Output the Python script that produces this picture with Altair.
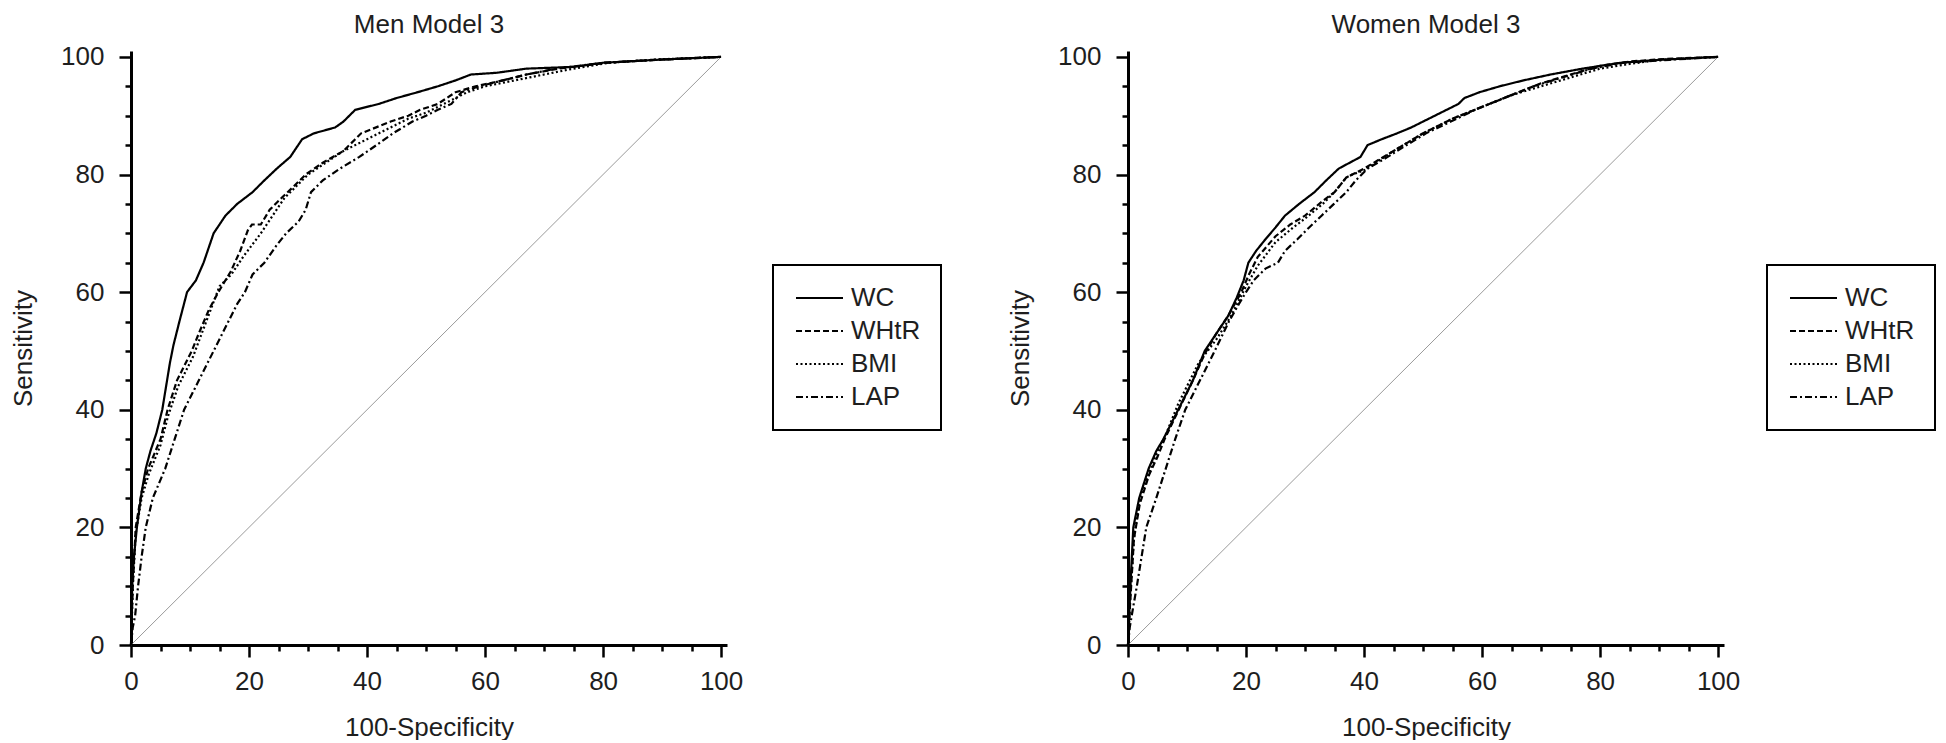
import altair as alt
import pandas as pd

SERIES = ["WC", "WHtR", "BMI", "LAP"]
DASHES = [[1, 0], [6, 3], [2, 2.5], [7, 3, 2, 3]]
TICK_VALUES = list(range(0, 101, 5))
DIAG_X = [0, 100]
DIAG_Y = [0, 100]

# ---- Men Model 3 ----
MEN_WC_X = [0, 0.2, 0.5, 1.0, 1.8, 2.5, 3.3, 4.3, 5.3, 6.6, 7.2, 8.2, 9.5, 11.0, 12.3, 14.0, 16.0, 18.0, 20.6,
            22.6, 24.7, 27.0, 29.0, 31.0, 34.6, 36.0, 38.0, 42.0, 45.0, 48.6, 52.0, 55.0, 57.6, 62.0, 67.0, 75.0,
            80.0, 89.0, 100]
MEN_WC_Y = [0, 10, 15, 20, 26, 30, 33, 36, 40, 48, 51, 55, 60, 62, 65, 70, 73, 75, 77,
            79, 81, 83, 86, 87, 88, 89, 91, 92, 93, 94, 95, 96, 97, 97.3, 98, 98.3,
            99, 99.5, 100]

MEN_WHTR_X = [0, 0.3, 0.8, 1.8, 2.9, 5.0, 6.2, 7.8, 10.3, 11.5, 13.2, 14.8, 16.9, 18.5, 19.8, 20.5, 22.0, 23.5,
              25.5, 27.6, 29.6, 32.5, 36.0, 38.0, 39.0, 44.0, 47.0, 49.0, 52.0, 55.0, 58.4, 63.0, 67.0, 72.4,
              80.6, 89.0, 100]
MEN_WHTR_Y = [0, 10, 20, 26, 30, 35, 40, 45, 50, 53, 57, 60, 63.5, 67, 70.5, 71.5, 71.5, 74,
              76, 78, 80, 82, 84, 86, 87, 89, 90, 91, 92, 94, 95, 96, 97, 98,
              99, 99.5, 100]

MEN_BMI_X = [0, 0.3, 0.8, 1.8, 3.0, 5.0, 6.3, 8.0, 10.5, 12.0, 13.5, 15.0, 17.0, 19.0, 20.5, 22.0, 24.0, 26.0,
             28.0, 30.0, 33.0, 36.0, 40.0, 44.0, 47.0, 50.0, 53.0, 55.0, 57.0, 60.0, 65.0, 70.0, 75.0, 81.0,
             90.0, 100]
MEN_BMI_Y = [0, 10, 19, 25, 29, 34, 39, 44, 49, 53, 57, 61, 63, 66, 68, 70, 73, 76,
             78, 80, 82, 84, 86, 88, 89.5, 90.5, 92, 93, 94, 95, 96, 97, 98, 99,
             99.6, 100]

MEN_LAP_X = [0, 0.3, 0.7, 1.2, 1.8, 2.5, 3.7, 5.8, 7.4, 9.0, 11.5, 14.0, 16.5, 18.0, 19.3, 20.6, 22.6, 24.7,
             26.3, 28.4, 29.6, 30.5, 32.5, 35.4, 38.7, 41.6, 44.4, 47.7, 50.0, 52.0, 54.3, 56.0, 59.0, 63.0,
             67.0, 72.0, 80.0, 89.0, 100]
MEN_LAP_Y = [0, 3, 5, 10, 15, 20, 25, 30, 35, 40, 45, 50, 55, 58, 60, 63, 65, 68,
             70, 72, 74, 77, 79, 81, 83, 85, 87, 89, 90, 91, 92, 94, 95, 96,
             97, 98, 99, 99.5, 100]

# ---- Women Model 3 ----
WOMEN_WC_X = [0, 0.2, 0.5, 0.9, 1.9, 3.5, 4.8, 6.0, 8.5, 11.0, 13.0, 15.0, 17.0, 18.4, 19.6, 20.4, 21.7, 23.3,
              25.0, 26.6, 29.0, 31.6, 33.6, 35.7, 38.5, 39.4, 40.6, 43.0, 45.6, 48.0, 50.0, 52.0, 54.0, 56.0,
              57.0, 59.6, 63.0, 67.0, 71.6, 77.0, 83.5, 90.0, 100]
WOMEN_WC_Y = [0, 5, 12, 20, 25, 30, 33, 35, 40, 45, 50, 53, 56, 59, 62, 65, 67, 69,
              71, 73, 75, 77, 79, 81, 82.5, 83, 85, 86, 87, 88, 89, 90, 91, 92,
              93, 94, 95, 96, 97, 98, 99, 99.5, 100]

WOMEN_WHTR_X = [0, 0.3, 1.0, 2.0, 3.6, 5.0, 6.2, 8.6, 11.0, 13.0, 15.0, 17.0, 19.2, 20.5, 22.0, 25.0, 27.5,
                30.0, 33.0, 35.0, 37.0, 40.0, 45.0, 50.0, 55.0, 60.0, 65.0, 70.0, 75.0, 80.0, 85.0, 90.0, 100]
WOMEN_WHTR_Y = [0, 6, 18, 24, 29, 32, 35, 40, 45, 49.5, 53, 56, 60, 63, 66, 69.5, 71.5,
                73, 75.5, 77, 79.5, 81, 84, 87, 89.5, 91.5, 93.5, 95.5, 97, 98.5, 99.2, 99.6, 100]

WOMEN_BMI_X = [0, 0.3, 1.0, 2.0, 3.5, 5.0, 6.5, 8.5, 10.0, 12.0, 15.0, 17.5, 20.0, 22.0, 25.0, 28.0, 30.0,
               33.0, 35.0, 37.0, 38.0, 40.0, 45.0, 50.0, 55.0, 60.0, 65.0, 70.0, 75.0, 80.0, 85.0, 90.0, 100]
WOMEN_BMI_Y = [0, 7, 18, 25, 29, 33, 36, 41, 44, 48, 52, 56, 61, 64.5, 68.5, 71, 72.5,
               75, 77, 79.5, 80, 80.7, 84, 87, 89.5, 91.5, 93.5, 95, 96.5, 98, 98.8, 99.5, 100]

WOMEN_LAP_X = [0, 0.3, 0.8, 1.5, 2.3, 3.1, 4.8, 6.4, 8.0, 9.7, 12.2, 14.7, 17.1, 18.8, 20.0, 21.3, 23.3, 25.4,
               26.6, 28.7, 30.7, 32.8, 34.9, 37.0, 38.6, 40.6, 44.0, 47.2, 50.5, 54.7, 58.8, 63.7, 68.7, 73.6,
               78.6, 84.0, 91.7, 100]
WOMEN_LAP_Y = [0, 3, 6, 10, 15, 20, 25, 30, 35, 40, 45, 50, 55, 58, 60, 62, 64, 65,
               67, 69, 71, 73, 75, 77, 79, 81, 83, 85, 87, 89, 91, 93, 95, 96.5,
               98, 99, 99.5, 100]

FONT = "Liberation Sans"
TXT = "#1e1e1e"
FS = 26
# horizontal line symbol drawn from the symbol's anchor to the right (~47px at size 400)
LEGEND_LINE = "M0,0L4.7,0"


def long_df(pairs):
    rows = []
    for name, xs, ys in pairs:
        for i, (x, y) in enumerate(zip(xs, ys)):
            rows.append({"x": x, "y": y, "series": name, "i": i})
    return pd.DataFrame(rows)


def make_axis(title, label_pad, title_pad):
    return alt.Axis(
        title=title,
        values=TICK_VALUES,
        grid=False,
        labelExpr="datum.value % 20 === 0 ? datum.label : ''",
        labelOverlap=False,
        labelFlush=False,
        tickSize={"condition": {"test": "datum.value % 20 === 0", "value": 12}, "value": 6},
        tickWidth=2.5,
        tickColor="black",
        domainColor="black",
        domainWidth=3,
        labelFont=FONT,
        labelFontSize=FS,
        labelColor=TXT,
        labelPadding=label_pad,
        titleFont=FONT,
        titleFontSize=FS,
        titleFontWeight="normal",
        titleColor=TXT,
        titlePadding=title_pad,
    )


def make_panel(title, pairs, legend_x):
    df = long_df(pairs)
    diag_df = pd.DataFrame({"x": DIAG_X, "y": DIAG_Y})
    xs = alt.Scale(domain=[0, 101], nice=False, zero=False)
    ys = alt.Scale(domain=[0, 101], nice=False, zero=False)
    x_enc = alt.X("x:Q", scale=xs, axis=make_axis("100-Specificity", 11, 20))
    y_enc = alt.Y("y:Q", scale=ys, axis=make_axis("Sensitivity", 15, 24))
    diag = alt.Chart(diag_df).mark_line(color="#9a9a9a", strokeWidth=1).encode(x=x_enc, y=y_enc)
    curves = alt.Chart(df).mark_line(color="black", strokeWidth=2.2).encode(
        x=x_enc,
        y=y_enc,
        order="i:Q",
        strokeDash=alt.StrokeDash(
            "series:N",
            scale=alt.Scale(domain=SERIES, range=DASHES),
            legend=alt.Legend(
                title=None,
                orient="none",
                legendX=legend_x,
                legendY=214,
                symbolType=LEGEND_LINE,
                symbolSize=400,
                symbolOffset=-10,
                symbolStrokeWidth=2,
                symbolStrokeColor="black",
                symbolFillColor="transparent",
                labelFont=FONT,
                labelFontSize=FS,
                labelColor=TXT,
                labelOffset=42,
                rowPadding=7,
                padding=20,
                strokeColor="black",
                fillColor="white",
            ),
        ),
    )
    return alt.layer(diag, curves).properties(
        width=596,
        height=594,
        title=alt.Title(title, font=FONT, fontSize=26, fontWeight="normal", color=TXT,
                        anchor="middle", frame="group", offset=6),
    )


men = make_panel("Men Model 3", [
    ("WC", MEN_WC_X, MEN_WC_Y),
    ("WHtR", MEN_WHTR_X, MEN_WHTR_Y),
    ("BMI", MEN_BMI_X, MEN_BMI_Y),
    ("LAP", MEN_LAP_X, MEN_LAP_Y),
], 642)
women = make_panel("Women Model 3", [
    ("WC", WOMEN_WC_X, WOMEN_WC_Y),
    ("WHtR", WOMEN_WHTR_X, WOMEN_WHTR_Y),
    ("BMI", WOMEN_BMI_X, WOMEN_BMI_Y),
    ("LAP", WOMEN_LAP_X, WOMEN_LAP_Y),
], 639)

chart = (
    alt.hconcat(men, women, spacing=65)
    .resolve_scale(strokeDash="independent")
    .resolve_legend(strokeDash="independent")
    .properties(padding={"left": 2, "top": 3, "right": 0, "bottom": 0})
    .configure_view(stroke=None)
    .configure_legend(strokeWidth=2)
)

chart.save("out.html", embed_options={"renderer": "svg", "actions": False})
